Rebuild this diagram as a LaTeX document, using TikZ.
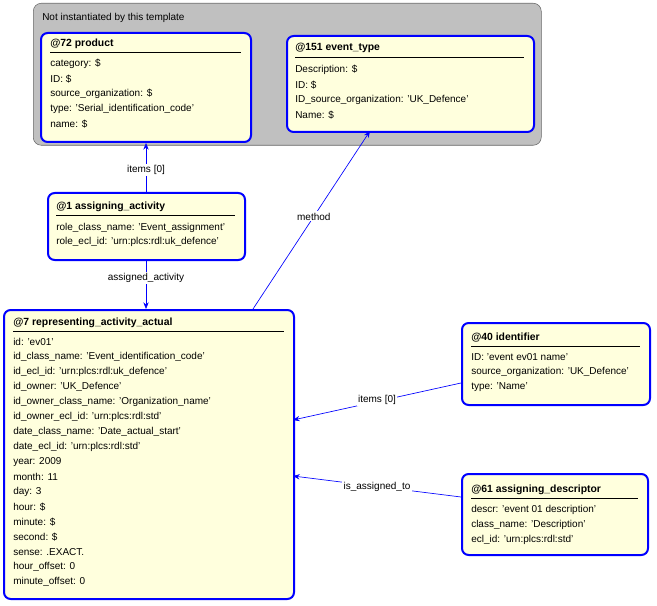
\documentclass[tikz,border=0pt]{standalone}
\usepackage{fontspec}
\setmainfont{Liberation Sans}
\usetikzlibrary{positioning,calc,arrows.meta}
\definecolor{mblue}{HTML}{0000FF}
\definecolor{mfill}{HTML}{FFFFDD}
\definecolor{mgrey}{HTML}{C0C0C0}
\tikzset{
  box/.style={draw=mblue, line width=1.5pt, fill=mfill, rounded corners=5pt, anchor=north west, inner sep=0pt},
  group/.style={draw=black!60, fill=mgrey, rounded corners=6pt, anchor=north west, inner sep=0pt},
  title/.style={anchor=west, font=\fontsize{7.8}{9}\selectfont\bfseries, inner sep=0pt},
  entry/.style={anchor=west, font=\fontsize{7.5}{9}\selectfont, inner sep=0pt},
  lbl/.style={font=\fontsize{7.5}{9}\selectfont, fill=white, inner sep=1pt},
  link/.style={draw=mblue, line width=0.5pt, -{Stealth[length=5pt,width=4pt]}},
}
\newcommand{\titleline}[3]{\draw[line width=0.6pt] (#1,#3) -- (#2,#3);}
\begin{document}
\begin{tikzpicture}[x=0.75pt, y=-0.75pt]
    \useasboundingbox (0,0) rectangle (657,606);

    % group
    \node[group, minimum width=508*0.75pt, minimum height=142*0.75pt] (grp) at (33,3) {};
    \node[entry] at (42,18) {Not instantiated by this template};

    % boxes
    \node[box, minimum width=210*0.75pt, minimum height=109*0.75pt] (prod) at (40,32) {};
    \node[box, minimum width=247*0.75pt, minimum height=96*0.75pt] (evt) at (286,35) {};
    \node[box, minimum width=197*0.75pt, minimum height=67*0.75pt] (asg) at (47,192) {};
    \node[box, minimum width=290*0.75pt, minimum height=289*0.75pt] (rep) at (3,309) {};
    \node[box, minimum width=188*0.75pt, minimum height=82*0.75pt] (ident) at (461,322) {};
    \node[box, minimum width=186*0.75pt, minimum height=81*0.75pt] (desc) at (461,473) {};

    % @72 product
    \node[title] at (50,44) {@72 product};
    \titleline{50}{241}{52}
    \foreach \t [count=\i from 0] in {category: \$, ID: \$, source\_organization: \$, type: 'Serial\_identification\_code', name: \$}
        \node[entry] at (50,64+15*\i) {\t};

    % @151 event_type
    \node[title] at (295,48) {@151 event\_type};
    \titleline{295}{524}{57}
    \foreach \t [count=\i from 0] in {Description: \$, ID: \$, ID\_source\_organization: 'UK\_Defence', Name: \$}
        \node[entry] at (295,70+15*\i) {\t};

    % @1 assigning_activity
    \node[title] at (56,207) {@1 assigning\_activity};
    \titleline{56}{235}{215}
    \node[entry] at (56,228) {role\_class\_name: 'Event\_assignment'};
    \node[entry] at (56,242) {role\_ecl\_id: 'urn:plcs:rdl:uk\_defence'};

    % @7 representing_activity_actual
    \node[title] at (13,323) {@7 representing\_activity\_actual};
    \titleline{13}{284}{331}
    \foreach \t [count=\i from 0] in {id: 'ev01', id\_class\_name: 'Event\_identification\_code', id\_ecl\_id: 'urn:plcs:rdl:uk\_defence', id\_owner: 'UK\_Defence', id\_owner\_class\_name: 'Organization\_name', id\_owner\_ecl\_id: 'urn:plcs:rdl:std', date\_class\_name: 'Date\_actual\_start', date\_ecl\_id: 'urn:plcs:rdl:std', year: 2009, month: 11, day: 3, hour: \$, minute: \$, second: \$, sense: .EXACT., hour\_offset: 0, minute\_offset: 0}
        \node[entry] at (13,342+15*\i) {\t};

    % @40 identifier
    \node[title] at (471,338) {@40 identifier};
    \titleline{471}{640}{346}
    \foreach \t [count=\i from 0] in {ID: 'event ev01 name', source\_organization: 'UK\_Defence', type: 'Name'}
        \node[entry] at (471,357+15*\i) {\t};

    % @61 assigning_descriptor
    \node[title] at (471,490) {@61 assigning\_descriptor};
    \titleline{471}{638}{498}
    \foreach \t [count=\i from 0] in {descr: 'event 01 description', class\_name: 'Description', ecl\_id: 'urn:plcs:rdl:std'}
        \node[entry] at (471,510+15*\i) {\t};

    % links
    \coordinate (m1) at (253,309);
    \coordinate (m2) at (370,131);
    \coordinate (i1) at (461,383);
    \coordinate (i2) at (293,420);
    \coordinate (d1) at (461,497);
    \coordinate (d2) at (293,476);
    \draw[link] (asg.north -| 146,0) -- (prod.south -| 146,0) node[lbl, pos=0.45] {items [0]};
    \draw[link] (asg.south -| 146,0) -- (rep.north -| 146,0) node[lbl, pos=0.36] {assigned\_activity};
    \draw[link] (m1) -- (m2) node[lbl, pos=0.52] {method};
    \draw[link] (i1) -- (i2) node[lbl, pos=0.5, yshift=1pt] {items [0]};
    \draw[link] (d1) -- (d2) node[lbl, pos=0.5] {is\_assigned\_to};
\end{tikzpicture}
\end{document}
